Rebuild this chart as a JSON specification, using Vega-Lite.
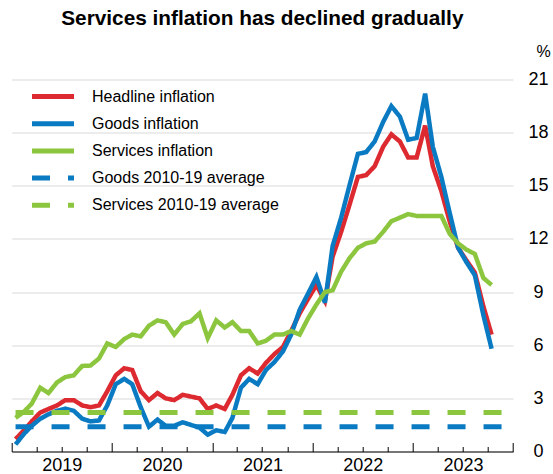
{
  "$schema": "https://vega.github.io/schema/vega-lite/v6.json",
  "autosize": {"type": "none"},
  "width": 501.3,
  "height": 372,
  "padding": {"left": 11.7, "top": 79.5, "right": 40, "bottom": 22.5},
  "title": {"text": "Services inflation has declined gradually", "fontSize": 20.8, "fontWeight": "bold", "font": "Liberation Sans", "anchor": "middle", "frame": "group", "offset": 14, "color": "#000000"},
  "config": {
    "view": {"stroke": null},
    "font": "Liberation Sans",
    "axis": {"labelFont": "Liberation Sans", "labelColor": "#000000", "titleColor": "#000000"}
  },
  "datasets": {
    "series": [
      {"date":"2019-01-15","series":"Headline inflation","value":0.7},
      {"date":"2019-02-15","series":"Headline inflation","value":1.2},
      {"date":"2019-03-15","series":"Headline inflation","value":1.7},
      {"date":"2019-04-15","series":"Headline inflation","value":2.2},
      {"date":"2019-05-15","series":"Headline inflation","value":2.4},
      {"date":"2019-06-15","series":"Headline inflation","value":2.6},
      {"date":"2019-07-15","series":"Headline inflation","value":2.9},
      {"date":"2019-08-15","series":"Headline inflation","value":2.9},
      {"date":"2019-09-15","series":"Headline inflation","value":2.6},
      {"date":"2019-10-15","series":"Headline inflation","value":2.5},
      {"date":"2019-11-15","series":"Headline inflation","value":2.6},
      {"date":"2019-12-15","series":"Headline inflation","value":3.4},
      {"date":"2020-01-15","series":"Headline inflation","value":4.3},
      {"date":"2020-02-15","series":"Headline inflation","value":4.7},
      {"date":"2020-03-15","series":"Headline inflation","value":4.6},
      {"date":"2020-04-15","series":"Headline inflation","value":3.4},
      {"date":"2020-05-15","series":"Headline inflation","value":2.9},
      {"date":"2020-06-15","series":"Headline inflation","value":3.3},
      {"date":"2020-07-15","series":"Headline inflation","value":3.0},
      {"date":"2020-08-15","series":"Headline inflation","value":2.9},
      {"date":"2020-09-15","series":"Headline inflation","value":3.2},
      {"date":"2020-10-15","series":"Headline inflation","value":3.1},
      {"date":"2020-11-15","series":"Headline inflation","value":3.0},
      {"date":"2020-12-15","series":"Headline inflation","value":2.4},
      {"date":"2021-01-15","series":"Headline inflation","value":2.6},
      {"date":"2021-02-15","series":"Headline inflation","value":2.4},
      {"date":"2021-03-15","series":"Headline inflation","value":3.2},
      {"date":"2021-04-15","series":"Headline inflation","value":4.3},
      {"date":"2021-05-15","series":"Headline inflation","value":4.7},
      {"date":"2021-06-15","series":"Headline inflation","value":4.4},
      {"date":"2021-07-15","series":"Headline inflation","value":5.0},
      {"date":"2021-08-15","series":"Headline inflation","value":5.5},
      {"date":"2021-09-15","series":"Headline inflation","value":5.9},
      {"date":"2021-10-15","series":"Headline inflation","value":6.8},
      {"date":"2021-11-15","series":"Headline inflation","value":7.8},
      {"date":"2021-12-15","series":"Headline inflation","value":8.6},
      {"date":"2022-01-15","series":"Headline inflation","value":9.4},
      {"date":"2022-02-15","series":"Headline inflation","value":8.5},
      {"date":"2022-03-15","series":"Headline inflation","value":11.0},
      {"date":"2022-04-15","series":"Headline inflation","value":12.4},
      {"date":"2022-05-15","series":"Headline inflation","value":13.9},
      {"date":"2022-06-15","series":"Headline inflation","value":15.5},
      {"date":"2022-07-15","series":"Headline inflation","value":15.6},
      {"date":"2022-08-15","series":"Headline inflation","value":16.1},
      {"date":"2022-09-15","series":"Headline inflation","value":17.2},
      {"date":"2022-10-15","series":"Headline inflation","value":17.9},
      {"date":"2022-11-15","series":"Headline inflation","value":17.5},
      {"date":"2022-12-15","series":"Headline inflation","value":16.6},
      {"date":"2023-01-15","series":"Headline inflation","value":16.6},
      {"date":"2023-02-15","series":"Headline inflation","value":18.4},
      {"date":"2023-03-15","series":"Headline inflation","value":16.1},
      {"date":"2023-04-15","series":"Headline inflation","value":14.7},
      {"date":"2023-05-15","series":"Headline inflation","value":13.0},
      {"date":"2023-06-15","series":"Headline inflation","value":11.5},
      {"date":"2023-07-15","series":"Headline inflation","value":10.8},
      {"date":"2023-08-15","series":"Headline inflation","value":10.1},
      {"date":"2023-09-15","series":"Headline inflation","value":8.2},
      {"date":"2023-10-15","series":"Headline inflation","value":6.6},

      {"date":"2019-01-15","series":"Goods inflation","value":0.4},
      {"date":"2019-02-15","series":"Goods inflation","value":1.0},
      {"date":"2019-03-15","series":"Goods inflation","value":1.45},
      {"date":"2019-04-15","series":"Goods inflation","value":1.85},
      {"date":"2019-05-15","series":"Goods inflation","value":2.1},
      {"date":"2019-06-15","series":"Goods inflation","value":2.3},
      {"date":"2019-07-15","series":"Goods inflation","value":2.42},
      {"date":"2019-08-15","series":"Goods inflation","value":2.3},
      {"date":"2019-09-15","series":"Goods inflation","value":1.85},
      {"date":"2019-10-15","series":"Goods inflation","value":1.7},
      {"date":"2019-11-15","series":"Goods inflation","value":1.75},
      {"date":"2019-12-15","series":"Goods inflation","value":2.6},
      {"date":"2020-01-15","series":"Goods inflation","value":3.8},
      {"date":"2020-02-15","series":"Goods inflation","value":4.1},
      {"date":"2020-03-15","series":"Goods inflation","value":3.8},
      {"date":"2020-04-15","series":"Goods inflation","value":2.5},
      {"date":"2020-05-15","series":"Goods inflation","value":1.4},
      {"date":"2020-06-15","series":"Goods inflation","value":1.8},
      {"date":"2020-07-15","series":"Goods inflation","value":1.45},
      {"date":"2020-08-15","series":"Goods inflation","value":1.45},
      {"date":"2020-09-15","series":"Goods inflation","value":1.65},
      {"date":"2020-10-15","series":"Goods inflation","value":1.5},
      {"date":"2020-11-15","series":"Goods inflation","value":1.35},
      {"date":"2020-12-15","series":"Goods inflation","value":0.95},
      {"date":"2021-01-15","series":"Goods inflation","value":1.2},
      {"date":"2021-02-15","series":"Goods inflation","value":1.1},
      {"date":"2021-03-15","series":"Goods inflation","value":1.9},
      {"date":"2021-04-15","series":"Goods inflation","value":3.6},
      {"date":"2021-05-15","series":"Goods inflation","value":4.1},
      {"date":"2021-06-15","series":"Goods inflation","value":3.8},
      {"date":"2021-07-15","series":"Goods inflation","value":4.6},
      {"date":"2021-08-15","series":"Goods inflation","value":5.05},
      {"date":"2021-09-15","series":"Goods inflation","value":5.65},
      {"date":"2021-10-15","series":"Goods inflation","value":6.6},
      {"date":"2021-11-15","series":"Goods inflation","value":8.0},
      {"date":"2021-12-15","series":"Goods inflation","value":8.9},
      {"date":"2022-01-15","series":"Goods inflation","value":9.85},
      {"date":"2022-02-15","series":"Goods inflation","value":8.4},
      {"date":"2022-03-15","series":"Goods inflation","value":11.6},
      {"date":"2022-04-15","series":"Goods inflation","value":13.2},
      {"date":"2022-05-15","series":"Goods inflation","value":15.0},
      {"date":"2022-06-15","series":"Goods inflation","value":16.8},
      {"date":"2022-07-15","series":"Goods inflation","value":16.9},
      {"date":"2022-08-15","series":"Goods inflation","value":17.5},
      {"date":"2022-09-15","series":"Goods inflation","value":18.6},
      {"date":"2022-10-15","series":"Goods inflation","value":19.5},
      {"date":"2022-11-15","series":"Goods inflation","value":18.9},
      {"date":"2022-12-15","series":"Goods inflation","value":17.6},
      {"date":"2023-01-15","series":"Goods inflation","value":17.7},
      {"date":"2023-02-15","series":"Goods inflation","value":20.2},
      {"date":"2023-03-15","series":"Goods inflation","value":17.2},
      {"date":"2023-04-15","series":"Goods inflation","value":15.5},
      {"date":"2023-05-15","series":"Goods inflation","value":13.5},
      {"date":"2023-06-15","series":"Goods inflation","value":11.5},
      {"date":"2023-07-15","series":"Goods inflation","value":10.7},
      {"date":"2023-08-15","series":"Goods inflation","value":9.95},
      {"date":"2023-09-15","series":"Goods inflation","value":7.7},
      {"date":"2023-10-15","series":"Goods inflation","value":5.8},

      {"date":"2019-01-15","series":"Services inflation","value":1.9},
      {"date":"2019-02-15","series":"Services inflation","value":2.25},
      {"date":"2019-03-15","series":"Services inflation","value":2.7},
      {"date":"2019-04-15","series":"Services inflation","value":3.6},
      {"date":"2019-05-15","series":"Services inflation","value":3.3},
      {"date":"2019-06-15","series":"Services inflation","value":3.9},
      {"date":"2019-07-15","series":"Services inflation","value":4.2},
      {"date":"2019-08-15","series":"Services inflation","value":4.3},
      {"date":"2019-09-15","series":"Services inflation","value":4.83},
      {"date":"2019-10-15","series":"Services inflation","value":4.85},
      {"date":"2019-11-15","series":"Services inflation","value":5.25},
      {"date":"2019-12-15","series":"Services inflation","value":6.1},
      {"date":"2020-01-15","series":"Services inflation","value":5.9},
      {"date":"2020-02-15","series":"Services inflation","value":6.35},
      {"date":"2020-03-15","series":"Services inflation","value":6.6},
      {"date":"2020-04-15","series":"Services inflation","value":6.5},
      {"date":"2020-05-15","series":"Services inflation","value":7.1},
      {"date":"2020-06-15","series":"Services inflation","value":7.4},
      {"date":"2020-07-15","series":"Services inflation","value":7.3},
      {"date":"2020-08-15","series":"Services inflation","value":6.6},
      {"date":"2020-09-15","series":"Services inflation","value":7.2},
      {"date":"2020-10-15","series":"Services inflation","value":7.35},
      {"date":"2020-11-15","series":"Services inflation","value":7.8},
      {"date":"2020-12-15","series":"Services inflation","value":6.4},
      {"date":"2021-01-15","series":"Services inflation","value":7.4},
      {"date":"2021-02-15","series":"Services inflation","value":7.0},
      {"date":"2021-03-15","series":"Services inflation","value":7.3},
      {"date":"2021-04-15","series":"Services inflation","value":6.8},
      {"date":"2021-05-15","series":"Services inflation","value":6.8},
      {"date":"2021-06-15","series":"Services inflation","value":6.1},
      {"date":"2021-07-15","series":"Services inflation","value":6.25},
      {"date":"2021-08-15","series":"Services inflation","value":6.6},
      {"date":"2021-09-15","series":"Services inflation","value":6.6},
      {"date":"2021-10-15","series":"Services inflation","value":6.8},
      {"date":"2021-11-15","series":"Services inflation","value":6.6},
      {"date":"2021-12-15","series":"Services inflation","value":7.5},
      {"date":"2022-01-15","series":"Services inflation","value":8.3},
      {"date":"2022-02-15","series":"Services inflation","value":9.0},
      {"date":"2022-03-15","series":"Services inflation","value":9.1},
      {"date":"2022-04-15","series":"Services inflation","value":10.15},
      {"date":"2022-05-15","series":"Services inflation","value":10.9},
      {"date":"2022-06-15","series":"Services inflation","value":11.5},
      {"date":"2022-07-15","series":"Services inflation","value":11.75},
      {"date":"2022-08-15","series":"Services inflation","value":11.85},
      {"date":"2022-09-15","series":"Services inflation","value":12.4},
      {"date":"2022-10-15","series":"Services inflation","value":13.0},
      {"date":"2022-11-15","series":"Services inflation","value":13.2},
      {"date":"2022-12-15","series":"Services inflation","value":13.4},
      {"date":"2023-01-15","series":"Services inflation","value":13.3},
      {"date":"2023-02-15","series":"Services inflation","value":13.3},
      {"date":"2023-03-15","series":"Services inflation","value":13.3},
      {"date":"2023-04-15","series":"Services inflation","value":13.3},
      {"date":"2023-05-15","series":"Services inflation","value":12.3},
      {"date":"2023-06-15","series":"Services inflation","value":11.75},
      {"date":"2023-07-15","series":"Services inflation","value":11.4},
      {"date":"2023-08-15","series":"Services inflation","value":11.15},
      {"date":"2023-09-15","series":"Services inflation","value":9.8},
      {"date":"2023-10-15","series":"Services inflation","value":9.4},

      {"date":"2019-01-15","series":"Goods 2010-19 average","value":1.4},
      {"date":"2023-12-15","series":"Goods 2010-19 average","value":1.4},
      {"date":"2019-01-15","series":"Services 2010-19 average","value":2.2},
      {"date":"2023-12-15","series":"Services 2010-19 average","value":2.2}
    ]
  },
  "data": {"name": "series"},
  "encoding": {
    "x": {
      "field": "date", "type": "temporal",
      "scale": {"type": "utc", "domain": [{"year": 2019, "month": 1, "date": 1, "utc": true}, {"year": 2024, "month": 1, "date": 1, "utc": true}], "nice": false},
      "axis": {
        "title": null,
        "values": [
          {"year":2019,"month":1,"date":1,"utc":true},{"year":2019,"month":4,"date":1,"utc":true},{"year":2019,"month":7,"date":1,"utc":true},{"year":2019,"month":10,"date":1,"utc":true},
          {"year":2020,"month":1,"date":1,"utc":true},{"year":2020,"month":4,"date":1,"utc":true},{"year":2020,"month":7,"date":1,"utc":true},{"year":2020,"month":10,"date":1,"utc":true},
          {"year":2021,"month":1,"date":1,"utc":true},{"year":2021,"month":4,"date":1,"utc":true},{"year":2021,"month":7,"date":1,"utc":true},{"year":2021,"month":10,"date":1,"utc":true},
          {"year":2022,"month":1,"date":1,"utc":true},{"year":2022,"month":4,"date":1,"utc":true},{"year":2022,"month":7,"date":1,"utc":true},{"year":2022,"month":10,"date":1,"utc":true},
          {"year":2023,"month":1,"date":1,"utc":true},{"year":2023,"month":4,"date":1,"utc":true},{"year":2023,"month":7,"date":1,"utc":true},{"year":2023,"month":10,"date":1,"utc":true},
          {"year":2024,"month":1,"date":1,"utc":true}
        ],
        "labelExpr": "utcmonth(datum.value) == 0 && utcyear(datum.value) < 2024 ? utcFormat(datum.value, '%Y') : ''",
        "labelOffset": 50.1,
        "labelOverlap": false,
        "labelBound": false,
        "labelFlush": false,
        "labelFontSize": 18,
        "labelPadding": 14,
        "labelBaseline": "top",
        "grid": false,
        "domainColor": "#000000",
        "domainWidth": 1,
        "tickColor": "#000000",
        "tickWidth": 1,
        "tickSize": {"condition": {"test": "utcmonth(datum.value) == 0", "value": -9}, "value": -5}
      }
    },
    "y": {
      "field": "value", "type": "quantitative",
      "scale": {"domain": [0, 21], "nice": false, "zero": true},
      "axis": {
        "orient": "right",
        "values": [0, 3, 6, 9, 12, 15, 18, 21],
        "domain": false,
        "ticks": false,
        "grid": true,
        "gridColor": "#d9d9d9",
        "gridWidth": 1,
        "labelAlign": "center",
        "labelBaseline": "middle",
        "labelPadding": 25,
        "labelFontSize": 18,
        "title": "%",
        "titleAngle": 0,
        "titleX": 30,
        "titleY": -28,
        "titleAlign": "center",
        "titleBaseline": "middle",
        "titleFontWeight": "normal",
        "titleFontSize": 16,
        "titleFont": "Liberation Sans"
      }
    },
    "color": {
      "field": "series", "type": "nominal",
      "scale": {
        "domain": ["Headline inflation", "Goods inflation", "Services inflation", "Goods 2010-19 average", "Services 2010-19 average"],
        "range": ["#dc2a30", "#0a7bc2", "#8cc63f", "#0a7bc2", "#8cc63f"]
      },
      "legend": {
        "orient": "none",
        "legendX": 33.3,
        "legendY": 9,
        "title": null,
        "padding": 0,
        "symbolType": "M-4.2,0H4.2",
        "symbolSize": 100,
        "symbolStrokeWidth": 5,
        "labelFontSize": 16,
        "labelFont": "Liberation Sans",
        "labelColor": "#000000",
        "labelLimit": 0,
        "labelOffset": 31,
        "rowPadding": 7.2,
        "symbolOpacity": 1
      }
    },
    "strokeDash": {
      "field": "series", "type": "nominal",
      "scale": {
        "domain": ["Headline inflation", "Goods inflation", "Services inflation", "Goods 2010-19 average", "Services 2010-19 average"],
        "range": [[1, 0], [1, 0], [1, 0], [18, 18], [18, 18]]
      },
      "legend": {
        "orient": "none",
        "legendX": 33.3,
        "legendY": 9,
        "title": null,
        "padding": 0,
        "symbolType": "M-4.2,0H4.2",
        "symbolSize": 100,
        "symbolStrokeWidth": 5,
        "labelFontSize": 16,
        "labelFont": "Liberation Sans",
        "labelColor": "#000000",
        "labelLimit": 0,
        "labelOffset": 31,
        "rowPadding": 7.2,
        "symbolOpacity": 1
      }
    }
  },
  "layer": [
    {"transform": [{"filter": "datum.series == 'Headline inflation'"}], "mark": {"type": "line", "strokeWidth": 4.5, "strokeJoin": "miter", "strokeCap": "butt"}},
    {"transform": [{"filter": "datum.series == 'Goods inflation'"}], "mark": {"type": "line", "strokeWidth": 4.5, "strokeJoin": "miter", "strokeCap": "butt"}},
    {"transform": [{"filter": "datum.series == 'Services inflation'"}], "mark": {"type": "line", "strokeWidth": 4.5, "strokeJoin": "miter", "strokeCap": "butt"}},
    {"transform": [{"filter": "datum.series == 'Goods 2010-19 average'"}], "mark": {"type": "line", "strokeWidth": 5, "strokeCap": "butt"}},
    {"transform": [{"filter": "datum.series == 'Services 2010-19 average'"}], "mark": {"type": "line", "strokeWidth": 5, "strokeCap": "butt"}}
  ]
}
